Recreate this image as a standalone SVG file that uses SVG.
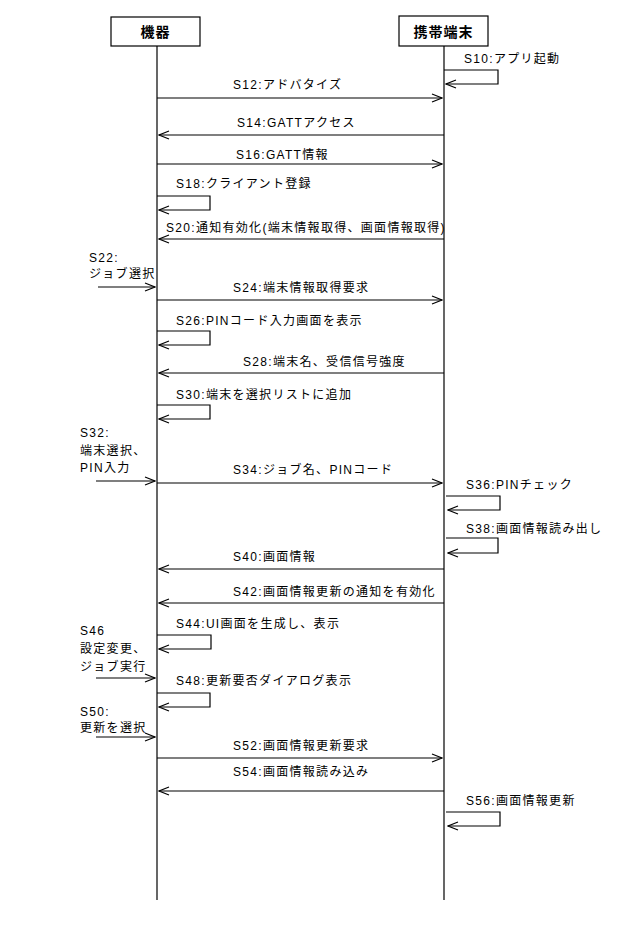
<svg xmlns="http://www.w3.org/2000/svg" width="640" height="932" viewBox="0 0 640 932">
<defs>
<marker id="a" markerWidth="12" markerHeight="10" refX="11" refY="5" orient="auto" markerUnits="userSpaceOnUse"><path d="M1,1 L11,5 L1,9" fill="none" stroke="#000" stroke-width="1.2"/></marker>
</defs>
<style>
text{font-family:"Liberation Sans","Noto Sans CJK JP",sans-serif;font-size:12px;letter-spacing:1.3px;fill:#000}
.h{font-size:14px;font-weight:bold;letter-spacing:1px}
.l{stroke:#000;stroke-width:1.2;fill:none}
.m{stroke:#000;stroke-width:1.2;fill:none;marker-end:url(#a)}
</style>
<rect width="640" height="932" fill="#fff"/>
<g id="kiki"><rect x="111" y="17" width="89" height="29" class="l" stroke-width="2"/><text class="h" x="155.5" y="37" text-anchor="middle">機器</text></g>
<g id="keitai"><rect x="399" y="16" width="89" height="30" class="l" stroke-width="2"/><text class="h" x="443.5" y="37" text-anchor="middle">携帯端末</text></g>
<g id="connectors">
<line class="l" x1="157" y1="46" x2="157" y2="900"/>
<line class="l" x1="444" y1="46" x2="444" y2="900"/>
<path class="m" d="M444,70 H498 V84 H446"/>
<line class="m" x1="157" y1="98" x2="442" y2="98"/>
<line class="m" x1="444" y1="135" x2="159" y2="135"/>
<line class="m" x1="157" y1="164" x2="442" y2="164"/>
<path class="m" d="M157,196 H210 V210 H159"/>
<line class="m" x1="444" y1="239" x2="159" y2="239"/>
<line class="m" x1="98" y1="287" x2="155" y2="287"/>
<line class="m" x1="157" y1="300" x2="442" y2="300"/>
<path class="m" d="M157,331 H210 V345 H159"/>
<line class="m" x1="444" y1="373" x2="159" y2="373"/>
<path class="m" d="M157,405 H210 V419 H159"/>
<line class="m" x1="96" y1="481" x2="155" y2="481"/>
<line class="m" x1="157" y1="483" x2="442" y2="483"/>
<path class="m" d="M446,496 H500 V510 H448"/>
<path class="m" d="M446,538 H498 V553 H448"/>
<line class="m" x1="444" y1="569" x2="159" y2="569"/>
<line class="m" x1="444" y1="603" x2="159" y2="603"/>
<path class="m" d="M157,635 H211 V649 H159"/>
<line class="m" x1="96" y1="678" x2="155" y2="678"/>
<path class="m" d="M157,693 H210 V707 H159"/>
<line class="m" x1="96" y1="737" x2="155" y2="737"/>
<line class="m" x1="157" y1="758" x2="442" y2="758"/>
<line class="m" x1="444" y1="791" x2="159" y2="791"/>
<path class="m" d="M446,812 H500 V826 H448"/>
</g>
<g id="labels">
<text x="464" y="63">S10:アプリ起動</text>
<text x="233" y="89">S12:アドバタイズ</text>
<text x="237" y="127">S14:GATTアクセス</text>
<text x="236" y="159">S16:GATT情報</text>
<text x="176" y="188">S18:クライアント登録</text>
<text x="166" y="232">S20:通知有効化(端末情報取得、画面情報取得)</text>
<text x="89" y="262">S22:</text>
<text x="89" y="278">ジョブ選択</text>
<text x="233" y="292">S24:端末情報取得要求</text>
<text x="176" y="325">S26:PINコード入力画面を表示</text>
<text x="243" y="366">S28:端末名、受信信号強度</text>
<text x="176" y="399">S30:端末を選択リストに追加</text>
<text x="80" y="437">S32:</text>
<text x="80" y="455">端末選択、</text>
<text x="80" y="472">PIN入力</text>
<text x="233" y="474">S34:ジョブ名、PINコード</text>
<text x="466" y="489">S36:PINチェック</text>
<text x="466" y="533">S38:画面情報読み出し</text>
<text x="233" y="561">S40:画面情報</text>
<text x="233" y="596">S42:画面情報更新の通知を有効化</text>
<text x="176" y="628">S44:UI画面を生成し、表示</text>
<text x="80" y="635">S46</text>
<text x="80" y="653">設定変更、</text>
<text x="80" y="671">ジョブ実行</text>
<text x="176" y="685">S48:更新要否ダイアログ表示</text>
<text x="80" y="716">S50:</text>
<text x="80" y="732">更新を選択</text>
<text x="233" y="750">S52:画面情報更新要求</text>
<text x="233" y="776">S54:画面情報読み込み</text>
<text x="466" y="805">S56:画面情報更新</text>
</g>
</svg>
